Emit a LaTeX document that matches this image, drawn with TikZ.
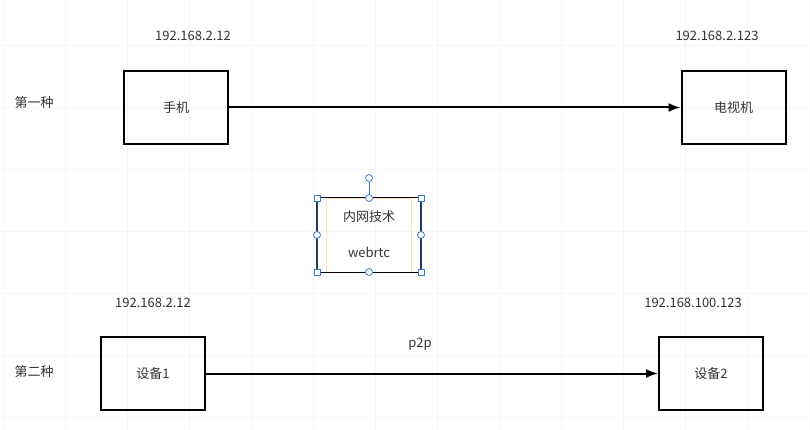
\documentclass[tikz,border=0pt]{standalone}
\usepackage{fontspec}
\setmainfont{Noto Sans CJK SC}
\usetikzlibrary{positioning, arrows.meta}
\definecolor{textgray}{HTML}{333333}
\definecolor{gridgray}{HTML}{F6F6F6}
\definecolor{handleblue}{HTML}{3A7BD5}
\definecolor{framenavy}{HTML}{1F3A5F}
\definecolor{paleorange}{HTML}{FFE2B8}
\begin{document}
\begin{tikzpicture}[x = 1pt, y = -1pt,
    device/.style = {draw, line width = 2pt, minimum width = 104pt, minimum height = 73pt, font = \fontsize{13}{15}\selectfont, text = textgray},
    caption/.style = {font = \fontsize{13}{15}\selectfont, text = textgray},
    link/.style = {line width = 2pt, -{Latex[length = 12pt, width = 9pt]}},
    sqhandle/.style = {draw = handleblue, fill = white, line width = .8pt, minimum size = 6pt, inner sep = 0pt},
    cirhandle/.style = {draw = handleblue, fill = white, line width = .8pt, circle, minimum size = 7pt, inner sep = 0pt}]
  \useasboundingbox (0, 0) rectangle (810, 430);
  \fill[white] (0, 0) rectangle (810, 430);
  % faint grid
  \foreach \gx in {3, 65, ..., 810}
    \draw[gridgray, line width = .6pt] (\gx, 0)--(\gx, 430);
  \foreach \gy in {45, 107, ..., 430}
    \draw[gridgray, line width = .6pt] (0, \gy)--(810, \gy);
  % first row
  \node[caption] (first) at (34, 103) {第一种};
  \node[device] (phone) at (176, 107.5) {手机};
  \node[device] (tv) at (733.5, 107.5) {电视机};
  \node[caption] (phoneip) at (193, 36) {192.168.2.12};
  \node[caption] (tvip) at (717, 36) {192.168.2.123};
  \draw[link] (phone)--(tv);
  % selected text box
  \node[draw = paleorange, minimum width = 85pt, minimum height = 74pt, inner sep = 0pt] (note) at (368.5, 235) {};
  \node[caption] (notetop) at (369, 217) {内网技术};
  \node[caption] (notebottom) at (369, 252) {webrtc};
  \coordinate (tl) at (317, 198);
  \coordinate (tr) at (421, 198);
  \coordinate (bl) at (317, 272);
  \coordinate (br) at (421, 272);
  \draw[line width = 1pt] (tl)--(tr) (bl)--(br);
  \draw[framenavy, line width = 1.6pt] (tl)--(bl) (tr)--(br);
  \node[cirhandle] (rot) at (369, 178) {};
  \draw[handleblue, line width = .8pt] (rot)--(369, 198);
  \foreach \hx/\hy in {317/198, 421/198, 317/272, 421/272}
    \node[sqhandle] at (\hx, \hy) {};
  \foreach \hx/\hy in {369/198, 369/272, 317/235, 421/235}
    \node[cirhandle] at (\hx, \hy) {};
  % second row
  \node[caption] (second) at (34, 372) {第二种};
  \node[device] (devone) at (153, 373.5) {设备1};
  \node[device] (devtwo) at (711, 373.5) {设备2};
  \node[caption] (devoneip) at (153, 303) {192.168.2.12};
  \node[caption] (devtwoip) at (693, 303) {192.168.100.123};
  \node[caption] (ptp) at (420, 344) {p2p};
  \draw[link] (devone)--(devtwo);
\end{tikzpicture}
\end{document}
